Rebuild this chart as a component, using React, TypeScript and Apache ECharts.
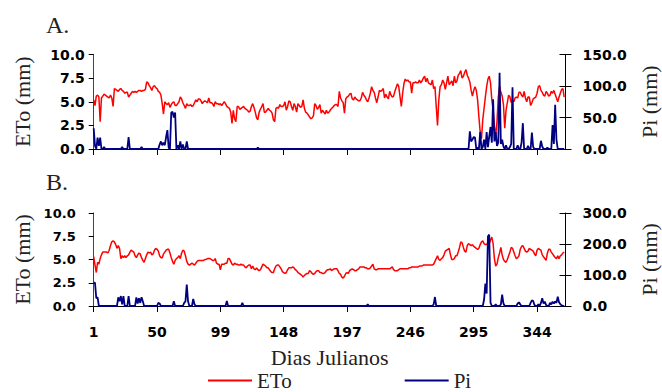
import React, { useEffect, useRef } from "react";
import * as echarts from "echarts";

// ---- data -------------------------------------------------------------
const xTicks = [1, 50, 99, 148, 197, 246, 295, 344];

// Panel A – daily reference evapotranspiration (mm), days 1..365
const etoA = [
  5.2, 4.6, 5.6, 5.7, 5.5, 2.9, 5.4, 5.6, 5.8, 5.7,
  5.6, 5.5, 5.4, 5.7, 5.4, 4.5, 6.4, 6.3, 6.2, 6.1,
  6.3, 6.4, 6.2, 6.1, 5.9, 6.0, 6.0, 5.5, 5.7, 5.9,
  6.1, 6.0, 6.1, 6.0, 6.1, 6.2, 6.2, 6.1, 6.2, 6.2,
  6.3, 7.1, 7.0, 6.7, 6.5, 6.2, 6.6, 6.7, 6.5, 6.4,
  6.1, 6.0, 5.7, 4.8, 3.7, 5.0, 4.8, 4.7, 4.9, 4.4,
  4.7, 4.9, 5.0, 4.6, 4.6, 4.8, 5.0, 5.5, 5.3, 4.9,
  4.6, 4.3, 4.8, 4.6, 4.6, 4.7, 4.5, 4.6, 4.9, 5.2,
  5.0, 5.3, 5.3, 5.1, 4.8, 5.0, 5.1, 5.0, 4.9, 5.4,
  4.9, 4.9, 4.8, 4.5, 5.0, 4.8, 4.8, 4.7, 4.8, 4.6,
  4.8, 5.0, 4.8, 4.5, 4.4, 4.3, 3.9, 2.7, 4.1, 3.2,
  2.9, 4.5, 4.5, 4.2, 4.3, 4.4, 4.5, 4.3, 4.2, 4.1,
  3.9, 4.0, 4.5, 4.8, 4.4, 3.9, 3.3, 3.1, 3.9, 4.2,
  4.5, 4.8, 3.9, 3.9, 4.1, 4.3, 4.1, 4.0, 3.8, 3.1,
  2.9, 4.3, 4.4, 4.3, 4.7, 4.5, 4.5, 4.6, 5.0, 4.1,
  4.5, 5.1, 5.0, 4.5, 4.1, 4.8, 4.5, 3.9, 4.8, 4.6,
  4.4, 4.5, 5.2, 4.3, 3.9, 3.8, 3.6, 3.4, 3.2, 3.3,
  3.5, 4.8, 4.6, 4.2, 4.4, 4.7, 3.8, 4.1, 3.9, 3.7,
  4.1, 3.8, 3.9, 4.1, 4.3, 4.4, 4.6, 4.7, 4.7, 4.5,
  6.1, 5.4, 5.1, 4.9, 3.8, 5.3, 5.5, 5.6, 5.8, 5.9,
  5.3, 5.2, 5.5, 5.3, 5.2, 5.1, 5.1, 5.4, 6.0, 5.7,
  5.5, 5.2, 5.0, 5.4, 5.9, 6.6, 6.2, 6.0, 5.4, 4.9,
  5.5, 6.2, 6.1, 6.2, 6.4, 5.4, 5.8, 5.5, 5.3, 6.1,
  5.7, 5.5, 5.6, 6.1, 6.5, 6.9, 6.6, 5.5, 4.5, 5.9,
  6.9, 7.4, 7.2, 7.3, 7.1, 7.1, 5.9, 7.0, 7.0, 7.1,
  7.0, 7.0, 7.3, 7.0, 7.2, 7.5, 7.7, 7.1, 7.5, 7.0,
  6.9, 6.8, 7.3, 6.4, 6.6, 4.5, 2.5, 5.2, 6.6, 6.8,
  7.3, 7.0, 6.3, 7.0, 7.7, 6.8, 7.0, 7.2, 6.7, 7.7,
  7.0, 7.2, 7.8, 8.0, 8.3, 7.5, 7.7, 8.1, 8.4, 7.8,
  7.5, 7.1, 6.2, 5.6, 6.2, 6.6, 6.2, 5.2, 3.4, 1.8,
  1.1, 3.1, 4.3, 5.5, 6.6, 7.4, 7.7, 7.0, 5.2, 4.1,
  2.4, 1.4, 2.9, 5.5, 6.6, 6.0, 5.6, 4.7, 2.2, 4.1,
  4.9, 5.7, 5.5, 4.9, 5.2, 5.0, 5.4, 5.5, 5.4, 6.0,
  6.0, 5.7, 5.5, 6.1, 5.4, 5.0, 5.5, 5.5, 4.6, 4.9,
  5.3, 5.4, 5.5, 5.9, 6.6, 6.7, 6.2, 6.0, 5.7, 5.6,
  6.1, 5.9, 5.6, 5.7, 6.1, 5.9, 6.2, 5.8, 5.4, 5.0,
  5.5, 5.9, 6.3, 6.4, 5.5,
];

// Panel A – rainfall events (day, mm); all other days are 0
const piAEvents = [
  [1, 33], [2, 5], [4, 18], [5, 5], [6, 18], [9, 3], [23, 3], [28, 19], [38, 3],
  [52, 7], [53, 12], [54, 6], [55, 10], [56, 6], [57, 19], [58, 30], [59, 2],
  [61, 58], [62, 59], [63, 50], [64, 58], [66, 6], [68, 12], [70, 7], [73, 12],
  [128, 2],
  [292, 28], [293, 12], [294, 15], [295, 19], [296, 18], [298, 2], [300, 27],
  [302, 3], [303, 15], [305, 27], [306, 3], [307, 20], [308, 35], [309, 10],
  [310, 79], [311, 12], [312, 27], [313, 5], [314, 10], [315, 121], [316, 8],
  [317, 15], [318, 4], [320, 6], [323, 3], [324, 8], [325, 98], [329, 6],
  [332, 10], [333, 41], [337, 5], [340, 26], [341, 3], [347, 13], [348, 4],
  [352, 2], [356, 38], [357, 8], [358, 70], [359, 15],
];

// Panel B – daily reference evapotranspiration (mm), days 1..365
const etoB = [
  5.3, 4.4, 3.6, 4.7, 4.5, 5.1, 5.5, 5.8, 5.8, 5.8,
  5.8, 5.7, 6.0, 6.5, 6.9, 7.0, 6.9, 6.6, 6.2, 6.5,
  6.2, 5.1, 5.4, 5.2, 5.4, 5.2, 5.4, 5.5, 5.8, 6.0,
  5.9, 5.8, 5.4, 5.2, 5.5, 5.7, 5.6, 5.2, 4.9, 4.7,
  5.1, 5.5, 5.8, 5.7, 5.8, 5.5, 5.6, 6.0, 6.2, 6.1,
  5.9, 5.4, 5.2, 5.2, 5.6, 5.8, 6.0, 6.1, 6.1, 5.7,
  5.2, 4.8, 4.5, 4.9, 5.1, 5.2, 5.4, 5.1, 5.7, 6.0,
  5.9, 5.4, 4.8, 4.5, 4.4, 4.5, 4.6, 4.5, 4.4, 4.6,
  4.8, 4.9, 4.9, 4.9, 4.9, 4.9, 5.0, 5.0, 5.1, 5.1,
  5.1, 5.0, 4.9, 4.9, 5.1, 4.6, 4.5, 4.5, 3.9, 4.5,
  4.5, 4.5, 4.6, 4.6, 5.1, 5.1, 4.8, 4.5, 4.4, 4.6,
  4.5, 4.5, 4.4, 4.4, 4.5, 4.4, 4.4, 4.2, 4.1, 4.3,
  4.4, 4.4, 4.0, 4.3, 4.0, 3.9, 4.1, 3.9, 3.8, 3.9,
  4.2, 4.5, 4.4, 4.3, 4.1, 4.1, 3.9, 3.7, 3.6, 3.6,
  4.0, 4.3, 4.4, 4.4, 4.2, 4.0, 3.7, 3.6, 3.5, 3.6,
  3.9, 4.1, 4.1, 4.1, 4.2, 4.1, 3.9, 3.8, 3.6, 3.5,
  3.4, 3.3, 3.1, 3.3, 3.4, 3.5, 3.5, 3.8, 3.7, 3.5,
  3.4, 3.5, 3.7, 3.8, 3.8, 3.6, 3.6, 3.5, 3.5, 3.6,
  3.8, 3.9, 3.9, 4.0, 3.8, 3.9, 4.0, 4.0, 4.0, 3.8,
  3.5, 3.4, 3.1, 3.0, 3.2, 3.5, 3.6, 3.5, 3.8, 3.9,
  4.0, 3.9, 3.8, 3.8, 3.9, 4.0, 4.2, 4.2, 4.2, 4.2,
  4.1, 4.1, 4.0, 4.0, 4.1, 4.3, 4.5, 4.0, 3.9, 3.9,
  4.0, 4.0, 4.0, 4.0, 4.0, 4.0, 4.0, 4.0, 4.0, 4.0,
  4.1, 4.2, 3.9, 3.8, 3.8, 3.8, 3.9, 4.0, 4.0, 4.0,
  4.0, 4.0, 4.0, 4.0, 4.1, 4.1, 4.2, 4.2, 4.2, 4.2,
  4.2, 4.2, 4.3, 4.3, 4.3, 4.4, 4.4, 4.4, 4.4, 4.4,
  4.4, 4.4, 4.4, 4.5, 4.8, 5.1, 5.4, 5.0, 4.9, 5.1,
  5.2, 5.5, 5.9, 6.0, 6.1, 6.2, 5.5, 5.0, 5.0, 5.1,
  5.4, 5.4, 5.8, 6.3, 6.9, 6.8, 6.3, 5.9, 5.8, 6.5,
  6.7, 6.6, 6.5, 6.6, 6.4, 6.3, 6.2, 6.1, 6.2, 6.6,
  6.9, 7.0, 6.7, 6.6, 6.6, 6.8, 6.7, 7.1, 7.4, 6.7,
  5.1, 4.3, 4.5, 5.2, 5.7, 6.3, 5.5, 5.0, 4.8, 4.7,
  5.0, 5.4, 5.8, 6.3, 6.2, 5.8, 5.4, 5.1, 5.2, 5.4,
  6.1, 6.4, 6.5, 6.2, 5.9, 5.8, 5.9, 6.2, 6.1, 6.0,
  5.9, 5.6, 5.4, 6.0, 6.2, 6.1, 6.0, 5.5, 5.3, 5.1,
  4.9, 5.7, 6.1, 6.1, 5.8, 5.6, 5.4, 5.2, 5.1, 5.4,
  5.1, 5.4, 5.5, 5.7, 5.8,
];

// Panel B – rainfall events (day, mm); all other days are 0
const piBEvents = [
  [1, 75], [2, 75], [3, 25], [4, 28],
  [20, 28], [21, 15], [22, 32], [23, 5], [24, 32], [28, 32],
  [34, 28], [35, 8], [36, 25], [37, 10], [38, 28], [39, 15],
  [51, 10], [52, 8], [63, 15], [71, 10], [72, 15], [73, 69], [74, 15],
  [78, 23], [79, 5], [104, 16], [116, 10], [213, 5],
  [264, 5], [265, 29],
  [303, 20], [304, 72], [305, 40], [306, 225], [307, 230], [308, 10],
  [312, 5], [316, 5], [317, 37], [318, 8],
  [329, 8], [330, 12], [331, 5], [339, 10], [340, 18], [341, 16], [342, 3],
  [345, 6], [347, 10], [348, 25], [349, 8], [350, 14], [351, 3],
  [354, 10], [355, 5], [356, 14], [357, 8], [358, 15], [359, 10], [360, 30],
  [361, 12], [362, 6], [363, 2],
];

const etoMax = 10;
const piMaxA = 150;
const piMaxB = 300;

// ---- helpers ------------------------------------------------------------
const NDAYS = 365;
const daily = (values: number[]) => values.map((v, i) => [i + 1, v]);
const fromEvents = (events: number[][]) => {
  const arr = new Array(NDAYS).fill(0);
  events.forEach(([d, v]) => {
    arr[d - 1] = v;
  });
  return daily(arr);
};

const RED = "#ff0000";
const NAVY = "#000080";
const SERIF = "Liberation Serif";
const SANS = "DejaVu Sans";

const gridL = 93.7;
const gridW = 471.8;

function xAxisFor(gridIndex: number, showLabels: boolean) {
  return {
    type: "value",
    gridIndex,
    min: 1,
    max: 366,
    axisLine: { show: true, lineStyle: { color: "#000", width: 1 } },
    axisTick: {
      show: true,
      customValues: xTicks,
      length: 6,
      lineStyle: { color: "#000" },
    },
    axisLabel: {
      show: showLabels,
      customValues: xTicks,
      color: "#000",
      fontFamily: SANS,
      fontWeight: "bold",
      fontSize: 14,
      margin: 19,
    },
    splitLine: { show: false },
    name: showLabels ? "Dias Julianos" : "",
    nameLocation: "middle",
    nameGap: 40,
    nameMoveOverlap: false,
    nameTextStyle: { fontFamily: SERIF, fontSize: 22, color: "#222" },
  };
}

function leftAxis(gridIndex: number, fontSize: number, margin: number) {
  return {
    type: "value",
    gridIndex,
    position: "left",
    min: 0,
    max: etoMax,
    interval: 2.5,
    axisLine: { show: true, lineStyle: { color: "#444", width: 1 } },
    axisTick: { show: true, length: 5, lineStyle: { color: "#000" } },
    axisLabel: {
      color: "#000",
      fontFamily: SANS,
      fontWeight: "bold",
      fontSize,
      margin,
      formatter: (v: number) => v.toFixed(1),
    },
    splitLine: { show: false },
    name: "ETo (mm)",
    nameLocation: "middle",
    nameRotate: 90,
    nameGap: 60,
    nameMoveOverlap: false,
    nameTextStyle: { fontFamily: SERIF, fontSize: 22, color: "#222" },
  };
}

function rightAxis(gridIndex: number, max: number) {
  return {
    type: "value",
    gridIndex,
    position: "right",
    min: 0,
    max,
    interval: max / 3,
    axisLine: { show: true, lineStyle: { color: "#000", width: 1 } },
    axisTick: { show: true, length: 6, lineStyle: { color: "#000" } },
    axisLabel: {
      color: "#000",
      fontFamily: SANS,
      fontWeight: "bold",
      fontSize: 14,
      margin: 17,
      formatter: (v: number) => v.toFixed(1),
    },
    splitLine: { show: false },
    name: "Pi (mm)",
    nameLocation: "middle",
    nameRotate: 90,
    nameGap: 73,
    nameMoveOverlap: false,
    nameTextStyle: { fontFamily: SERIF, fontSize: 22, color: "#222" },
  };
}

function rightInnerTicks(gridIndex: number, max: number) {
  return {
    type: "value",
    gridIndex,
    position: "right",
    min: 0,
    max,
    interval: max / 3,
    axisLine: { show: false },
    axisTick: { show: true, inside: true, length: 6, lineStyle: { color: "#000" } },
    axisLabel: { show: false },
    splitLine: { show: false },
  };
}

function lineSeries(name: string, color: string, width: number, xi: number, yi: number, data: any[], z: number) {
  return {
    name,
    type: "line",
    xAxisIndex: xi,
    yAxisIndex: yi,
    data,
    symbol: "none",
    showSymbol: false,
    color,
    itemStyle: { color },
    lineStyle: { color, width },
    z,
  };
}

export default function App() {
  const ref = useRef<HTMLDivElement>(null);

  useEffect(() => {
    if (!ref.current) return;
    const chart = echarts.init(ref.current, null, { renderer: "svg" });
    chart.setOption({
      animation: false,
      backgroundColor: "#ffffff",
      title: [
        {
          text: "A.",
          left: 46,
          top: 13,
          padding: 0,
          textStyle: { fontFamily: SERIF, fontSize: 24, fontWeight: "normal", color: "#222" },
        },
        {
          text: "B.",
          left: 46,
          top: 170,
          padding: 0,
          textStyle: { fontFamily: SERIF, fontSize: 24, fontWeight: "normal", color: "#222" },
        },
      ],
      legend: {
        data: ["ETo", "Pi"],
        left: 208,
        top: 370,
        padding: 0,
        icon: "rect",
        itemWidth: 44,
        itemHeight: 2,
        itemGap: 113,
        textStyle: { fontFamily: SERIF, fontSize: 21, color: "#222" },
      },
      grid: [
        { left: gridL, width: gridW, top: 54.5, height: 94.5, outerBoundsMode: "none", containLabel: false },
        { left: gridL, width: gridW, top: 213, height: 93, outerBoundsMode: "none", containLabel: false },
      ],
      xAxis: [xAxisFor(0, false), xAxisFor(1, true)],
      yAxis: [
        leftAxis(0, 14, 9),
        rightAxis(0, piMaxA),
        rightInnerTicks(0, piMaxA),
        leftAxis(1, 13, 18),
        rightAxis(1, piMaxB),
        rightInnerTicks(1, piMaxB),
      ],
      series: [
        lineSeries("ETo", RED, 1.5, 0, 0, daily(etoA), 2),
        lineSeries("Pi", NAVY, 1.8, 0, 1, fromEvents(piAEvents), 3),
        lineSeries("ETo", RED, 1.5, 1, 3, daily(etoB), 2),
        lineSeries("Pi", NAVY, 1.8, 1, 4, fromEvents(piBEvents), 3),
      ],
    });
    return () => chart.dispose();
  }, []);

  return (
    <div
      ref={ref}
      style={{ position: "absolute", left: 0, top: 0, width: 662, height: 392, background: "#fff" }}
    />
  );
}
